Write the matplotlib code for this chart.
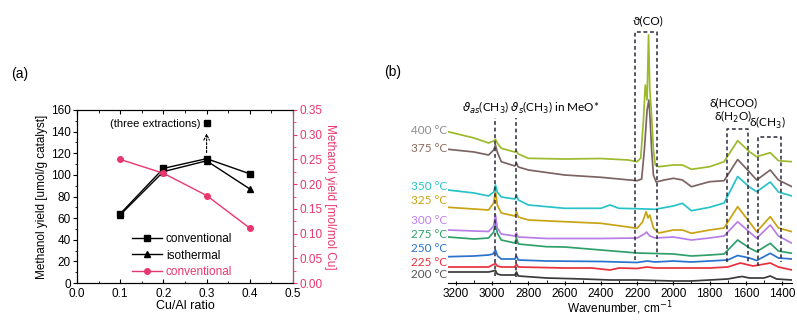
import matplotlib
matplotlib.use("Agg")
import matplotlib.pyplot as plt
from matplotlib.ticker import MultipleLocator
from matplotlib.lines import Line2D

plt.rcParams['font.family'] = ['Liberation Sans', 'DejaVu Sans']
plt.rcParams['mathtext.fontset'] = 'dejavusans'

# ---------------- panel (a): methanol yield vs Cu/Al ratio ----------------
cu_al = [0.1, 0.2, 0.3, 0.4]
yield_conventional = [64, 106, 115, 101]          # umol/g catalyst
yield_isothermal = [63, 103, 113, 87]             # umol/g catalyst
yield_per_cu = [0.25, 0.222, 0.177, 0.111]        # mol/mol Cu
three_extractions_x = 0.3
three_extractions_y = 148

# ---------------- panel (b): in-situ IR spectra ----------------
temperatures = ['200 °C', '225 °C', '250 °C', '275 °C', '300 °C',
                '325 °C', '350 °C', '375 °C', '400 °C']

wn_200 = [3244, 3020, 2982, 2972, 2950, 2875, 2866, 2856, 2700, 2500, 2350, 2200,
          2000, 1900, 1800, 1700, 1640, 1620, 1580, 1500, 1465, 1430, 1345]
ab_200 = [11, 11, 12.5, 9, 8, 8, 11, 7, 5, 4, 3, 3,
          2, 2, 3, 4, 6, 6.5, 5, 5, 7, 4, 3]

wn_225 = [3244, 3020, 2982, 2972, 2950, 2875, 2866, 2856, 2600, 2450, 2350, 2300,
          2200, 2145, 2100, 1800, 1700, 1630, 1560, 1465, 1420, 1345]
ab_225 = [16, 16, 19.5, 17, 16, 16, 19, 16, 15, 15, 13, 15,
          14.5, 16, 15, 15, 16, 20, 17, 20, 16, 13]

wn_250 = [3244, 3100, 3020, 2995, 2982, 2970, 2950, 2875, 2866, 2856, 2700, 2400,
          2200, 2145, 2100, 2000, 1900, 1800, 1700, 1645, 1580, 1540, 1465, 1420, 1345]
ab_250 = [26.3, 27, 28, 29, 33, 27, 24, 24, 27, 23, 22, 21.5,
          20.5, 22, 21, 22, 21, 22, 23, 27.5, 25, 22.5, 29.7, 25, 24]

wn_275 = [3244, 3100, 3020, 2992, 2982, 2972, 2950, 2875, 2866, 2856, 2700, 2600,
          2400, 2200, 2000, 1900, 1800, 1720, 1645, 1580, 1540, 1465, 1420, 1345]
ab_275 = [46, 44, 45, 51, 62, 50, 43, 40, 45, 39, 36.3, 36,
          33, 30, 29, 27, 28, 29, 43, 35, 31.3, 39.7, 32, 29.7]

wn_300 = [3244, 3100, 3020, 2992, 2982, 2972, 2950, 2875, 2866, 2856, 2700, 2400,
          2200, 2160, 2148, 2130, 2100, 2000, 1900, 1800, 1720, 1645, 1580, 1540,
          1465, 1420, 1345]
ab_300 = [53, 52, 51.5, 57, 68, 55, 49, 47, 50, 46, 44.5, 44.5,
          45, 49, 51, 47, 45, 46, 43, 45, 47, 61.3, 51, 44.7,
          58, 47, 39.7]

wn_325 = [3244, 3100, 3020, 2992, 2982, 2972, 2950, 2875, 2866, 2856, 2800, 2600,
          2400, 2250, 2200, 2170, 2150, 2140, 2130, 2110, 2080, 2000, 1950, 1900,
          1800, 1720, 1645, 1580, 1540, 1465, 1420, 1345]
ab_325 = [75.7, 74, 73, 80, 92, 78, 70, 67, 71.3, 66, 63, 61.3,
          59.7, 56, 54.7, 61, 71.3, 65, 68, 55, 50, 53, 53, 49.7,
          53, 55, 76.3, 61, 51.3, 66.3, 55, 51.3]

wn_350 = [3244, 3100, 3020, 2992, 2982, 2972, 2950, 2875, 2866, 2856, 2800, 2600,
          2400, 2350, 2300, 2200, 2100, 2000, 1950, 1900, 1800, 1720, 1645, 1580,
          1540, 1465, 1420, 1345]
ab_350 = [93, 90, 87, 91, 98, 91, 86, 84, 88, 83, 78, 74.7,
          74.7, 78, 74.7, 74.3, 73.7, 77, 79.7, 72.3, 75.7, 80, 106.5, 96,
          91.3, 101, 91, 87]

wn_375 = [3244, 3100, 3020, 2992, 2982, 2972, 2950, 2875, 2866, 2856, 2800, 2600,
          2400, 2200, 2175, 2160, 2145, 2135, 2128, 2120, 2110, 2095, 2050, 2000,
          1950, 1900, 1800, 1720, 1645, 1580, 1540, 1465, 1420, 1345]
ab_375 = [133.7, 131, 128, 133, 138, 131, 121.3, 117, 120, 116, 113, 108,
          105.7, 102.3, 104, 133, 173, 183, 163, 133, 108, 101, 103, 104.7,
          103, 96.3, 101.3, 102.3, 123.5, 111, 103, 113, 103, 96.3]

wn_400 = [3244, 3100, 3020, 2992, 2982, 2972, 2950, 2875, 2866, 2856, 2800, 2600,
          2400, 2250, 2200, 2180, 2165, 2155, 2145, 2137, 2130, 2122, 2110, 2100,
          2080, 2000, 1950, 1900, 1800, 1720, 1645, 1580, 1540, 1465, 1420, 1345]
ab_400 = [151.3, 145, 140, 142, 143.7, 140, 134.7, 131, 132, 129, 124.7, 124,
          124.5, 123, 121.3, 125, 163, 198, 183, 248, 193, 173, 133, 118,
          116.3, 118, 118, 113.7, 116.3, 121.3, 142.3, 131.3, 126.3, 130.3, 122.3, 121.3]

spectra_wn = [wn_200, wn_225, wn_250, wn_275, wn_300, wn_325, wn_350, wn_375, wn_400]
spectra_ab = [ab_200, ab_225, ab_250, ab_275, ab_300, ab_325, ab_350, ab_375, ab_400]
line_colors = ['#3a3a3a', '#e8303c', '#2a72cc', '#2fa06a', '#b77ee6',
               '#c9a312', '#27c3c8', '#7d6464', '#9cba2c']
label_colors = ['#555555', '#e8303c', '#2a72cc', '#2fa06a', '#c080e8',
                '#c9a312', '#27c3c8', '#8a6a5e', '#8c8c8c']
label_heights = [8, 21, 34, 49, 63, 82, 96, 135, 153]

PINK = '#e8376e'

fig = plt.figure(figsize=(7.97, 3.2), dpi=100)

# ---- panel (a)
ax = fig.add_axes([77 / 797, 37 / 320, 216 / 797, 173 / 320])
ax.plot(cu_al, yield_conventional, '-s', color='black', lw=1.0, ms=4.5,
        label='conventional')
ax.plot(cu_al, yield_isothermal, '-^', color='black', lw=1.0, ms=4.5,
        label='isothermal')
ax.plot([three_extractions_x], [three_extractions_y], 's', color='black', ms=4.5)
ax.annotate('', xy=(three_extractions_x, 141), xytext=(three_extractions_x, 118),
            arrowprops=dict(arrowstyle='->', color='black', lw=0.8,
                            linestyle=(0, (2, 1.5))))
ax.text(0.286, 147, '(three extractions)', ha='right', va='center', fontsize=8)
ax.set_xlim(0.0, 0.5)
ax.set_ylim(0, 160)
ax.xaxis.set_major_locator(MultipleLocator(0.1))
ax.xaxis.set_minor_locator(MultipleLocator(0.05))
ax.yaxis.set_major_locator(MultipleLocator(20))
ax.yaxis.set_minor_locator(MultipleLocator(10))
ax.tick_params(axis='both', which='major', labelsize=8.5, length=3, width=0.8,
               pad=1.5)
ax.tick_params(axis='both', which='minor', length=1.8, width=0.6)
ax.tick_params(axis='x', which='both', top=True, direction='in')
ax.tick_params(axis='x', which='major', pad=3.5)
ax.set_xticklabels([f'{v:.1f}' for v in ax.get_xticks()])
ax.set_xlabel('Cu/Al ratio', fontsize=9, labelpad=0)
ax.set_ylabel('Methanol yield [umol/g catalyst]', fontsize=8.5, labelpad=2)
for s in ax.spines.values():
    s.set_linewidth(0.8)

ax2 = ax.twinx()
ax2.plot(cu_al, yield_per_cu, '-o', color=PINK, lw=1.0, ms=4, label='conventional')
ax2.set_ylim(0, 0.35)
ax2.yaxis.set_major_locator(MultipleLocator(0.05))
ax2.yaxis.set_minor_locator(MultipleLocator(0.025))
ax2.tick_params(axis='y', which='major', colors=PINK, labelsize=8.5, length=3,
                width=0.8, pad=1.5)
ax2.tick_params(axis='y', which='minor', colors=PINK, length=1.8, width=0.6)
ax2.set_yticklabels([f'{v:.2f}' for v in ax2.get_yticks()])
ax2.spines['right'].set_color(PINK)
ax2.spines['right'].set_linewidth(0.8)
ax2.set_ylabel('Methanol yield [mol/mol Cu]', fontsize=8.5, color=PINK,
               rotation=270, labelpad=10)

handles = [Line2D([], [], color='black', marker='s', ms=4.5, lw=1.0),
           Line2D([], [], color='black', marker='^', ms=4.5, lw=1.0),
           Line2D([], [], color=PINK, marker='o', ms=4, lw=1.0)]
leg = ax.legend(handles, ['conventional', 'isothermal', 'conventional'],
                loc='lower left', bbox_to_anchor=(0.22, -0.01), frameon=False,
                fontsize=8.5, handlelength=2.6, handletextpad=0.3,
                labelspacing=0.35, borderaxespad=0.2)
leg.get_texts()[2].set_color(PINK)
leg.set_zorder(5)

fig.text(20 / 797, 1 - 74 / 320, '(a)', fontsize=10, ha='center', va='center')

# ---- panel (b)
bx = fig.add_axes([448 / 797, 37 / 320, 344 / 797, 263 / 320])
for wn, ab, c in zip(spectra_wn, spectra_ab, line_colors):
    bx.plot(wn, ab, color=c, lw=1.25, solid_joinstyle='round')
bx.set_xlim(3244, 1345)
bx.set_ylim(0, 263)
for s in ('left', 'right', 'top'):
    bx.spines[s].set_visible(False)
bx.spines['bottom'].set_linewidth(0.8)
bx.set_yticks([])
bx.xaxis.set_major_locator(MultipleLocator(200))
bx.xaxis.set_minor_locator(MultipleLocator(100))
bx.tick_params(axis='x', which='major', labelsize=8.5, length=3.5, width=0.8,
               pad=1.5, direction='inout')
bx.tick_params(axis='x', which='minor', length=2, width=0.6, direction='in')
bx.set_xlabel('Wavenumber, cm$^{-1}$', fontsize=8.5, labelpad=0)

lbl_font = ['Lato', 'DejaVu Sans']
for t, h, c in zip(temperatures, label_heights, label_colors):
    bx.text(3250, h, t, color=c, ha='right', va='center', fontsize=8.5,
            family=lbl_font, clip_on=False)

dash = dict(color='#2a2a3a', lw=1.1, linestyle=(0, (2.5, 1.8)))
bx.plot([2982, 2982], [7, 165], **dash)
bx.plot([2866, 2866], [6, 165], **dash)
bx.plot([2211, 2211, 2091, 2091], [23, 251, 251, 26], **dash)
bx.plot([1704, 1704, 1588, 1588], [21, 154, 154, 20], **dash)
bx.plot([1530, 1530, 1406, 1406], [17, 146, 146, 21], **dash)

bx.text(3165, 175, r'$\vartheta_{as}$(CH$_3$) $\vartheta_{s}$(CH$_3$) in MeO*',
        fontsize=8.5, ha='left', va='center', family=lbl_font)
bx.text(2140, 262, 'ϑ(CO)', fontsize=8.5, ha='center', va='center',
        family=lbl_font, clip_on=False)
bx.text(1668, 180, 'δ(HCOO)', fontsize=8.5, ha='center', va='center',
        family=lbl_font)
bx.text(1668, 166, 'δ(H$_2$O)', fontsize=8.5, ha='center', va='center',
        family=lbl_font)
bx.text(1483, 160, 'δ(CH$_3$)', fontsize=8.5, ha='center', va='center',
        family=lbl_font)

fig.text(393 / 797, 1 - 72 / 320, '(b)', fontsize=10, ha='center', va='center')

fig.savefig('out.png', dpi=100)
